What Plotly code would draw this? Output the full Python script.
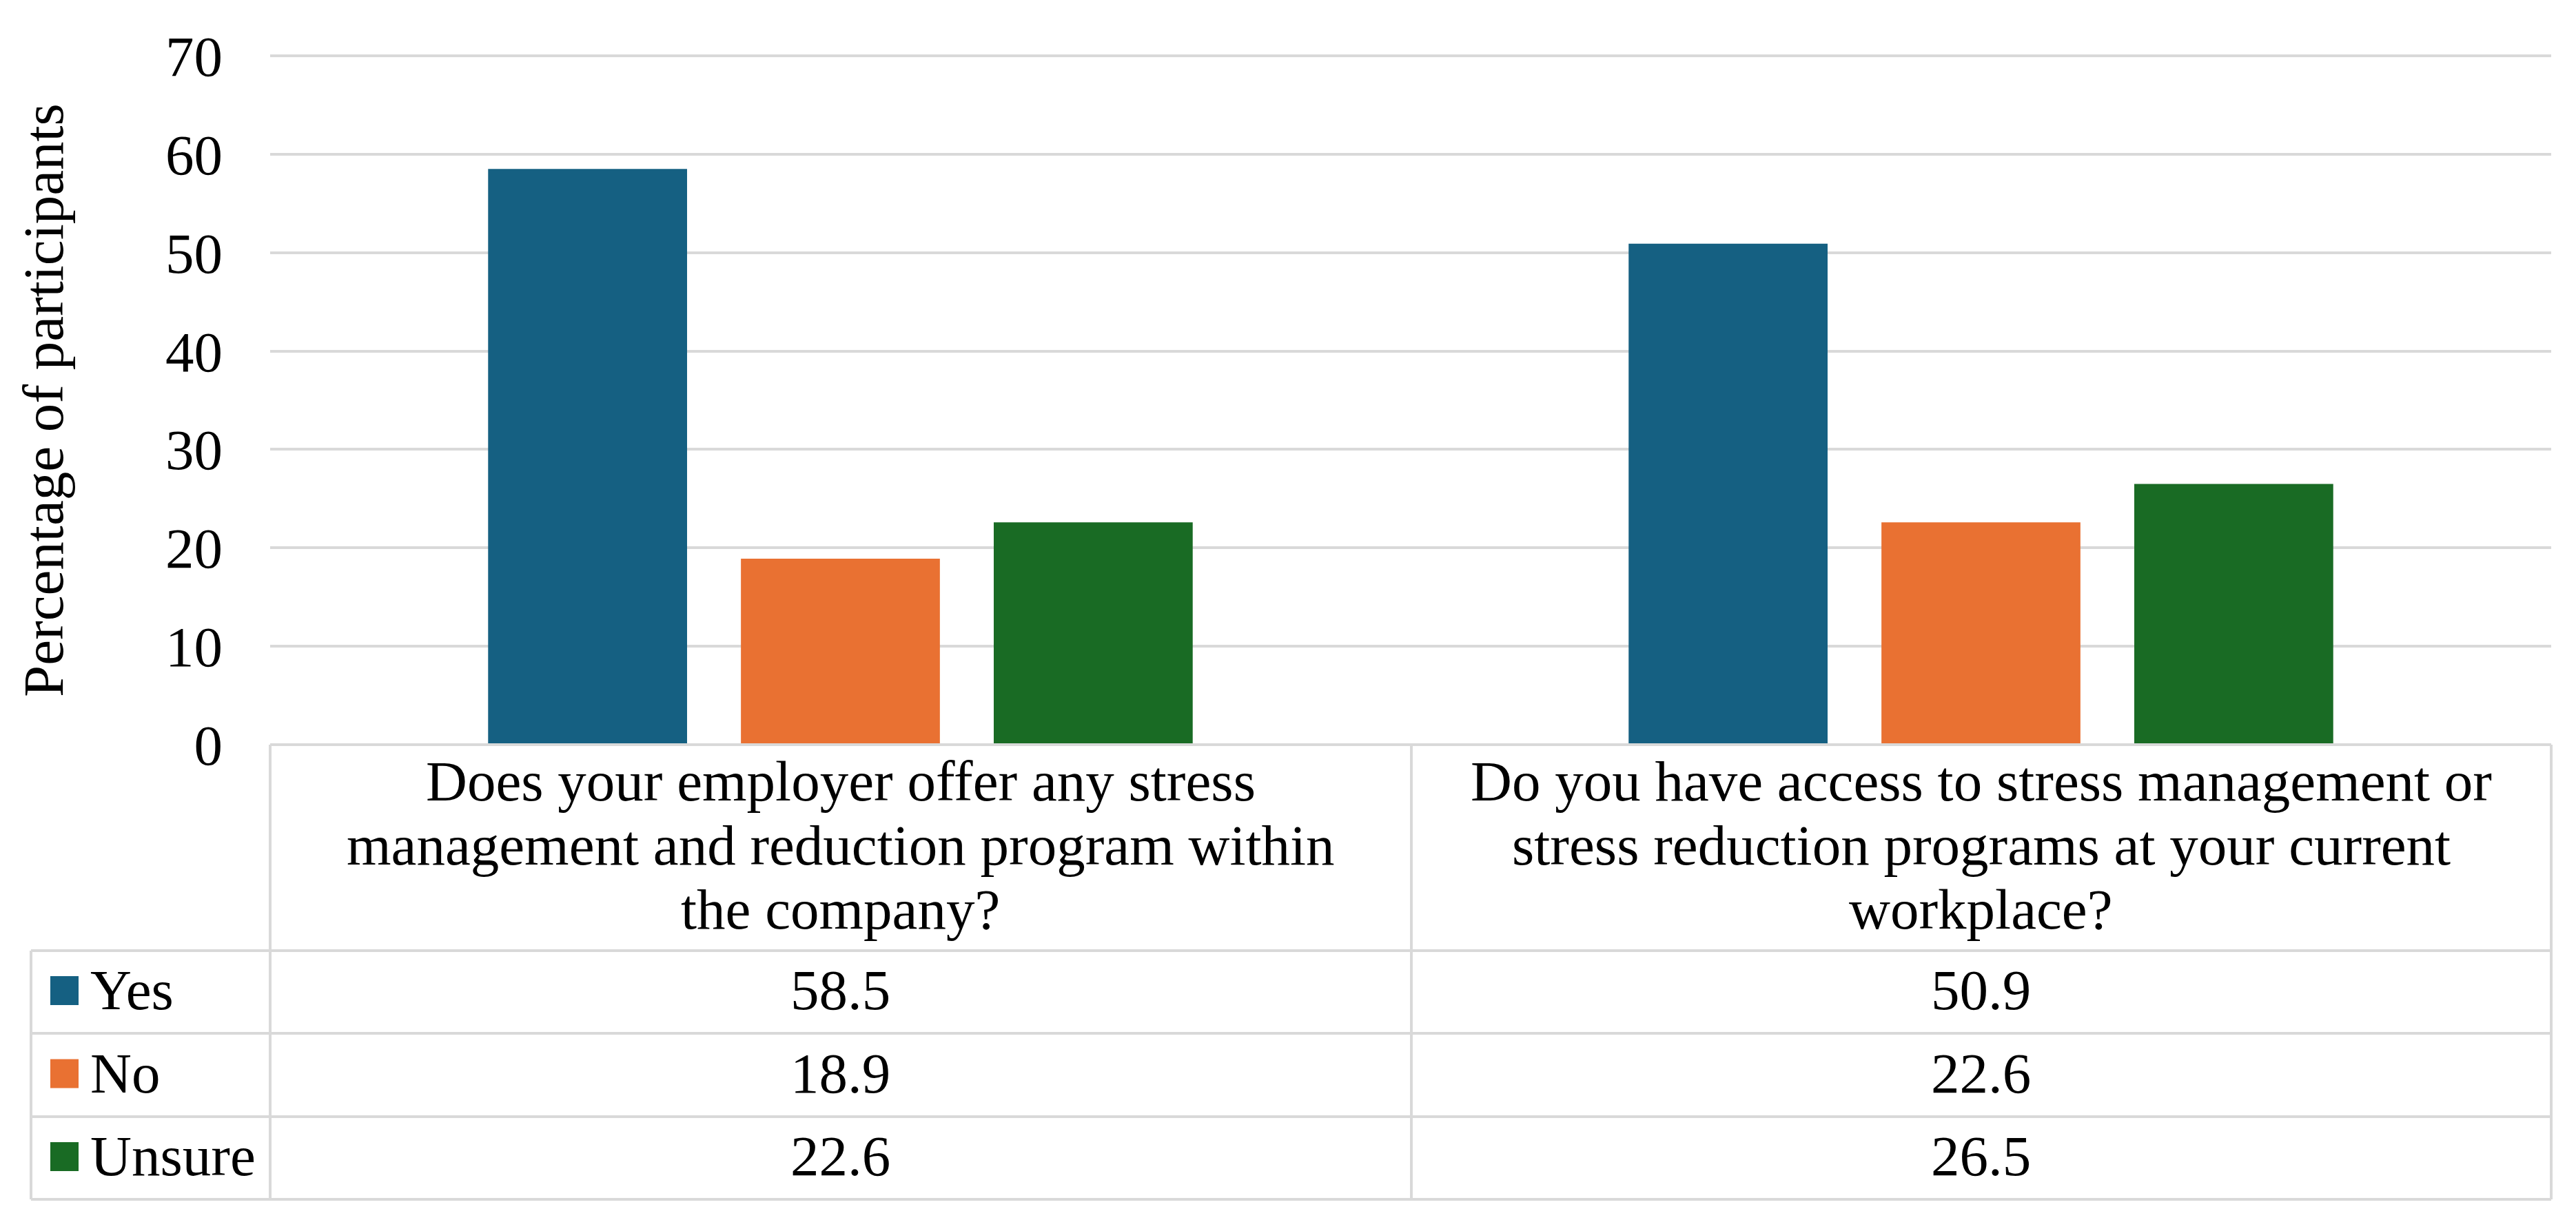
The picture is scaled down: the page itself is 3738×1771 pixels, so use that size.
import plotly.graph_objects as go

W, H = 3738, 1771

questions = [
    "Does your employer offer any stress<br>management and reduction program within<br>the company?",
    "Do you have access to stress management or<br>stress reduction programs at your current<br>workplace?",
]
answers = ["Yes", "No", "Unsure"]
yes_values = [58.5, 50.9]
no_values = [18.9, 22.6]
unsure_values = [22.6, 26.5]
series_values = [yes_values, no_values, unsure_values]
colors = ["#156082", "#E97132", "#196B24"]

y_ticks = [0, 10, 20, 30, 40, 50, 60, 70]
y_max = 70.1

FONT = "Liberation Serif, Times New Roman, serif"
LINE = "#d9d9d9"
FS = 83


def px_x(p):
    return p / W


def px_y(p):
    return 1 - p / H


# plot area / table in pixels
left, right, zero = 392, 3702, 1081
unit = (zero - 81) / 70.0
top = zero - unit * y_max
col_left = 45
col_mid = 2048
row_lines = [1380, 1500, 1621, 1741]
header_line_y = [1134, 1227, 1320]

fig = go.Figure()
for name, vals, col in zip(answers, series_values, colors):
    fig.add_trace(
        go.Bar(
            x=questions,
            y=vals,
            name=name,
            marker=dict(color=col, line=dict(width=0)),
            showlegend=False,
        )
    )

shapes = []
# table frame
shapes.append(dict(type="line", xref="paper", yref="paper",
                   x0=px_x(left), x1=px_x(right), y0=px_y(zero), y1=px_y(zero),
                   line=dict(color=LINE, width=4)))
for ry in row_lines:
    shapes.append(dict(type="line", xref="paper", yref="paper",
                       x0=px_x(col_left), x1=px_x(right), y0=px_y(ry), y1=px_y(ry),
                       line=dict(color=LINE, width=4)))
for vx in [left, col_mid, right]:
    shapes.append(dict(type="line", xref="paper", yref="paper",
                       x0=px_x(vx), x1=px_x(vx), y0=px_y(zero), y1=px_y(row_lines[-1]),
                       line=dict(color=LINE, width=4)))
shapes.append(dict(type="line", xref="paper", yref="paper",
                   x0=px_x(col_left), x1=px_x(col_left), y0=px_y(row_lines[0]),
                   y1=px_y(row_lines[-1]), line=dict(color=LINE, width=4)))

annotations = []
# header cells, one annotation per wrapped line
for q in questions:
    for line_text, ly in zip(q.split("<br>"), header_line_y):
        annotations.append(dict(x=q, xref="x", y=px_y(ly), yref="paper",
                                text=line_text, showarrow=False,
                                xanchor="center", yanchor="middle",
                                font=dict(family=FONT, size=FS, color="black")))

# data rows
for i, (name, vals, col) in enumerate(zip(answers, series_values, colors)):
    mid = (row_lines[i] + row_lines[i + 1]) / 2 - 3
    shapes.append(dict(type="rect", xref="paper", yref="paper",
                       x0=px_x(73), x1=px_x(114), y0=px_y(mid + 22), y1=px_y(mid - 20),
                       fillcolor=col, line=dict(width=0)))
    annotations.append(dict(x=px_x(129), xref="paper", y=px_y(mid), yref="paper",
                            text=name, showarrow=False, xanchor="left", yanchor="middle",
                            font=dict(family=FONT, size=FS, color="black")))
    for q, v in zip(questions, vals):
        annotations.append(dict(x=q, xref="x", y=px_y(mid), yref="paper",
                                text=f"{v:.1f}", showarrow=False,
                                xanchor="center", yanchor="middle",
                                font=dict(family=FONT, size=FS, color="black")))

# y-axis title
annotations.append(dict(x=px_x(63), xref="paper", y=px_y((81 + zero) / 2), yref="paper",
                        text="Percentage of participants", textangle=-90, showarrow=False,
                        xanchor="center", yanchor="middle",
                        font=dict(family=FONT, size=FS, color="black")))

fig.update_layout(
    width=W,
    height=H,
    margin=dict(l=0, r=0, t=0, b=0),
    paper_bgcolor="white",
    plot_bgcolor="white",
    barmode="group",
    bargap=0.335,
    bargroupgap=0.213,
    shapes=shapes,
    annotations=annotations,
    xaxis=dict(domain=[px_x(left), px_x(right)], showticklabels=False,
               showgrid=False, zeroline=False, range=[-0.5, 1.5], automargin=False),
    yaxis=dict(domain=[px_y(zero), px_y(top)], range=[0, y_max], tickvals=y_ticks,
               showgrid=True, gridcolor=LINE, gridwidth=4, zeroline=False,
               ticks="", ticklabelstandoff=68, automargin=False,
               tickfont=dict(family=FONT, size=FS, color="black")),
)

fig.write_html("out.html", config={"displayModeBar": False},
               post_script="document.body.style.margin='0';")
